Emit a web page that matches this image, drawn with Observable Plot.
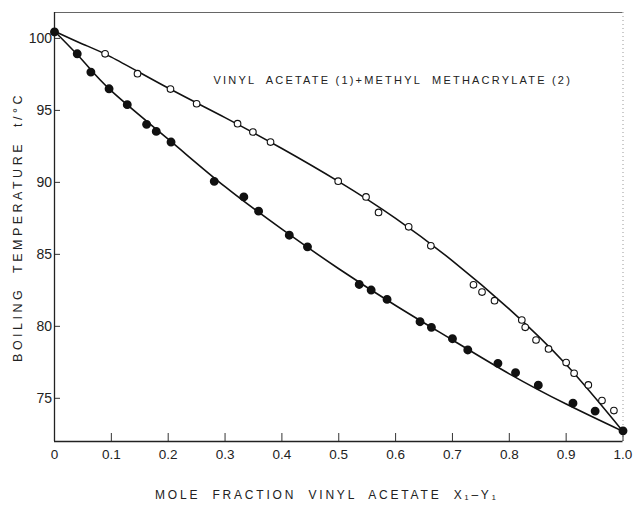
<!DOCTYPE html>
<html><head><meta charset="utf-8">
<script src="https://cdn.jsdelivr.net/npm/d3@7"></script>
<script src="https://cdn.jsdelivr.net/npm/@observablehq/plot@0.6"></script>
<style>
body{margin:0;background:#fff;}
#chart svg{font-family:"Liberation Sans","DejaVu Sans",sans-serif;}
</style></head>
<body><div id="chart"></div>
<script>
// Bubble-point (liquid, filled) measurements
const liquidX = [0.000,0.040,0.064,0.096,0.128,0.162,0.179,0.205,0.281,0.333,0.359,0.413,0.445,0.536,0.557,0.585,0.643,0.663,0.700,0.727,0.780,0.811,0.851,0.912,0.951,1.000];
const liquidT = [100.45,98.93,97.66,96.50,95.40,94.03,93.54,92.80,90.07,88.99,88.00,86.33,85.52,82.91,82.52,81.87,80.32,79.93,79.14,78.36,77.43,76.78,75.91,74.66,74.11,72.74];
// Dew-point (vapour, open) measurements
const vaporX = [0.089,0.146,0.204,0.250,0.322,0.349,0.380,0.499,0.548,0.570,0.623,0.662,0.737,0.752,0.774,0.822,0.828,0.847,0.869,0.900,0.914,0.939,0.963,0.984];
const vaporT = [98.93,97.55,96.48,95.46,94.08,93.50,92.80,90.08,88.99,87.91,86.91,85.59,82.88,82.38,81.78,80.44,79.93,79.05,78.43,77.48,76.74,75.93,74.84,74.15];
// Smoothed curves as drawn
const curveX = [0,0.05,0.1,0.2,0.3,0.4,0.5,0.6,0.7,0.8,0.9,1.0];
const bubbleCurveT = [100.5,98.45,96.35,93.0,89.7,86.75,84.0,81.45,79.05,76.7,74.6,72.7];
const dewCurveT = [100.5,99.6,98.7,96.55,94.5,92.35,90.05,87.5,84.55,81.2,77.35,72.7];
const xTicks = [0,0.1,0.2,0.3,0.4,0.5,0.6,0.7,0.8,0.9,1.0];
const yTicks = [75,80,85,90,95,100];
const note = "VINYL  ACETATE (1)+METHYL  METHACRYLATE (2)";
const notePos = {x:[0.595], y:[97.1]};
const xTitle = "MOLE  FRACTION  VINYL  ACETATE  X\u2081\u2013Y\u2081";
const yTitle = "BOILING  TEMPERATURE  t/\u00B0C";

const liquid = liquidX.map((x,i)=>({x, t: liquidT[i]}));
const vapor = vaporX.map((x,i)=>({x, t: vaporT[i]}));
const bubble = curveX.map((x,i)=>({x, t: bubbleCurveT[i]}));
const dew = curveX.map((x,i)=>({x, t: dewCurveT[i]}));

const chart = Plot.plot({
  width: 633, height: 509,
  marginLeft: 54, marginRight: 10.5, marginTop: 12, marginBottom: 68,
  style: {background: "#fff", color: "#222", fontSize: "13.5px"},
  x: {domain: [0,1]},
  y: {domain: [72, 101.8]},
  marks: [
    Plot.ruleY([101.8], {stroke: "#666", strokeWidth: 1}),
    Plot.ruleX([1], {stroke: "#999", strokeWidth: 1, strokeDasharray: "1,3"}),
    Plot.axisX({ticks: xTicks, tickSize: -8, tickPadding: 15.5, tickFormat: d => d === 0 ? "0" : d.toFixed(1), label: null, stroke: "#333", fontSize: 13.5}),
    Plot.axisY({ticks: yTicks, tickSize: -6, tickPadding: 8.5, label: null, stroke: "#333", fontSize: 14}),
    Plot.ruleX([0], {stroke: "#222", strokeWidth: 1.3}),
    Plot.ruleY([72], {stroke: "#222", strokeWidth: 1.3}),
    Plot.line(dew, {x: "x", y: "t", curve: "natural", stroke: "#111", strokeWidth: 1.6}),
    Plot.line(bubble, {x: "x", y: "t", curve: "natural", stroke: "#111", strokeWidth: 1.6}),
    Plot.dot(vapor, {x: "x", y: "t", r: 3.3, fill: "#fff", stroke: "#111", strokeWidth: 1.1}),
    Plot.dot(liquid, {x: "x", y: "t", r: 3.7, fill: "#111", stroke: "#111"}),
    Plot.text([note], {x: notePos.x, y: notePos.y, text: d => d, textAnchor: "middle", fontSize: 11, fill: "#222"}),
    Plot.text([xTitle], {frameAnchor: "bottom", dy: 57, dx: -12, text: d => d, textAnchor: "middle", fontSize: 12, fill: "#222"}),
    Plot.text([yTitle], {frameAnchor: "left", dx: -37, rotate: -90, text: d => d, textAnchor: "middle", fontSize: 12.5, fill: "#222"})
  ]
});
const spacing = new Map([[note, "2.2px"], [xTitle, "2.8px"], [yTitle, "3.5px"]]);
chart.querySelectorAll("text").forEach(t => {
  const s = spacing.get(t.textContent);
  if (s) t.style.letterSpacing = s;
});
document.getElementById("chart").appendChild(chart);
</script></body></html>
